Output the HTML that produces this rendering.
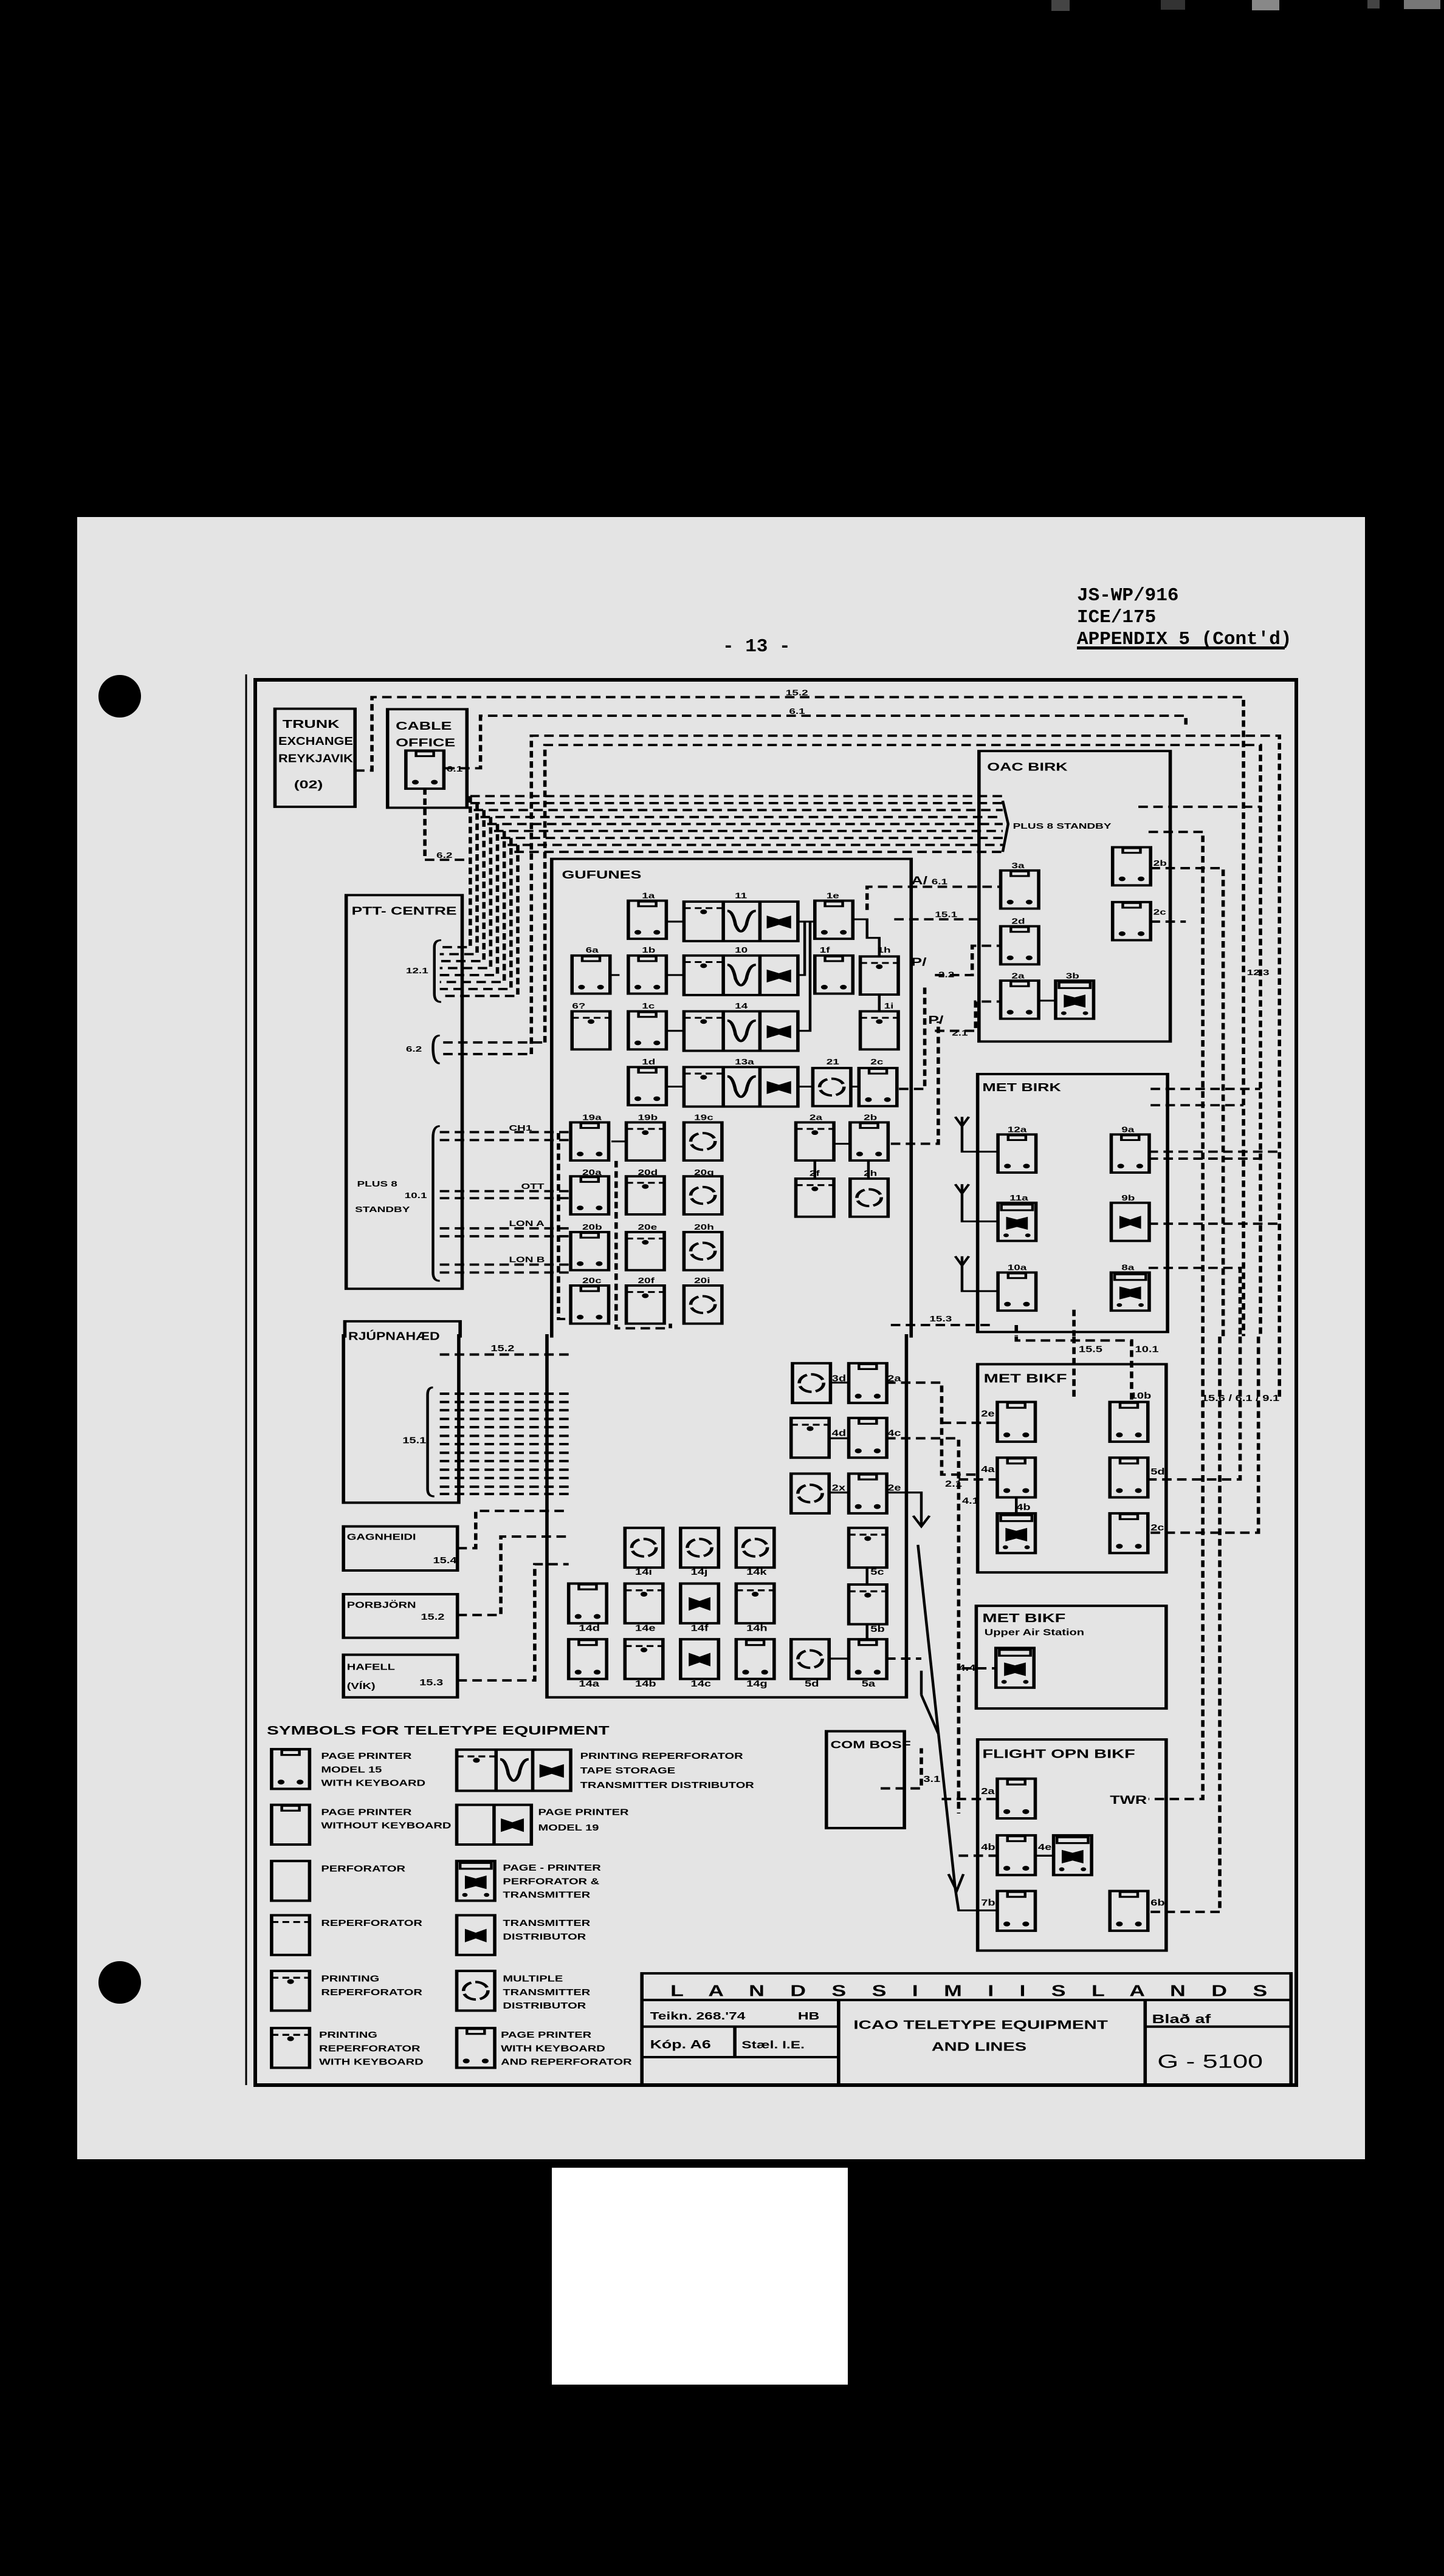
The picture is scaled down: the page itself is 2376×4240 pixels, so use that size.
<!DOCTYPE html>
<html><head><meta charset="utf-8"><style>
html,body{margin:0;padding:0;background:#000;}
svg{display:block}
</style></head><body>
<svg width="2376" height="4240" viewBox="0 0 2376 4240" xmlns="http://www.w3.org/2000/svg">
<defs>
<g id="box"><rect x="0" y="0" width="56" height="82" fill="none" stroke="#000" stroke-width="5"/></g>
<g id="pk"><rect x="0" y="0" width="56" height="82" fill="none" stroke="#000" stroke-width="5"/><rect x="15" y="2" width="26" height="10" fill="none" stroke="#000" stroke-width="4"/><circle cx="14" cy="68" r="5"/><circle cx="42" cy="68" r="5"/></g>
<g id="pp"><rect x="0" y="0" width="56" height="82" fill="none" stroke="#000" stroke-width="5"/><rect x="15" y="2" width="26" height="10" fill="none" stroke="#000" stroke-width="4"/></g>
<g id="prp"><rect x="0" y="0" width="56" height="82" fill="none" stroke="#000" stroke-width="5"/><line x1="0" y1="14" x2="56" y2="14" stroke="#000" stroke-width="4" stroke-dasharray="10 6"/><circle cx="28" cy="22" r="5"/></g>
<g id="rp"><rect x="0" y="0" width="56" height="82" fill="none" stroke="#000" stroke-width="5"/><line x1="0" y1="14" x2="56" y2="14" stroke="#000" stroke-width="4" stroke-dasharray="10 6"/></g>
<g id="circ"><rect x="0" y="0" width="56" height="82" fill="none" stroke="#000" stroke-width="5"/><circle cx="28" cy="41" r="18" fill="none" stroke="#000" stroke-width="5" stroke-dasharray="22 6"/></g>
<g id="td"><rect x="0" y="0" width="56" height="82" fill="none" stroke="#000" stroke-width="5"/><path d="M12 28 L28 36 L44 28 L44 56 L28 48 L12 56Z" fill="#000"/></g>
<g id="ppt"><rect x="0" y="0" width="56" height="82" fill="none" stroke="#000" stroke-width="5"/><rect x="5" y="4" width="46" height="12" fill="none" stroke="#000" stroke-width="4"/><path d="M12 30 L28 36 L44 30 L44 58 L28 52 L12 58Z" fill="#000"/><circle cx="12" cy="70" r="4"/><circle cx="44" cy="70" r="4"/></g>
<g id="cmp"><rect x="0" y="0" width="168" height="85" fill="none" stroke="#000" stroke-width="5"/><line x1="58" y1="0" x2="58" y2="85" stroke="#000" stroke-width="5"/><line x1="112" y1="0" x2="112" y2="85" stroke="#000" stroke-width="5"/><line x1="0" y1="14" x2="58" y2="14" stroke="#000" stroke-width="4" stroke-dasharray="10 6"/><circle cx="29" cy="22" r="5"/><path d="M64 20 Q72 20 76 50 Q84 78 92 50 Q96 20 106 20" fill="none" stroke="#000" stroke-width="5"/><path d="M122 30 L140 38 L158 30 L158 58 L140 50 L122 58Z" fill="#000"/></g>
</defs>

<rect x="1730" y="0" width="30" height="18" fill="#444"/>
<rect x="1910" y="0" width="40" height="16" fill="#333"/>
<rect x="2060" y="0" width="45" height="17" fill="#888"/>
<rect x="2250" y="0" width="20" height="14" fill="#444"/>
<rect x="2310" y="0" width="60" height="15" fill="#777"/>

<rect x="127" y="851" width="2119" height="2703" fill="#e4e4e4"/>
<circle cx="197" cy="1146" r="35" fill="#000"/>
<circle cx="197" cy="3263" r="35" fill="#000"/>
<rect x="908" y="3568" width="487" height="357" fill="#fff"/>

<g font-family="Liberation Mono, monospace" font-weight="bold" font-size="31" fill="#000">
<text x="1772" y="988">JS-WP/916</text>
<text x="1772" y="1024">ICE/175</text>
<text x="1772" y="1060">APPENDIX 5 (Cont'd)</text>
<text x="1189" y="1072">- 13 -</text>
</g>
<rect x="1772" y="1064" width="342" height="5" fill="#000"/>

<rect x="420" y="1119" width="1713" height="2313" fill="none" stroke="#000" stroke-width="6"/>
<line x1="405" y1="1110" x2="405" y2="3432" stroke="#000" stroke-width="3"/>

<!-- ZOOM1 region -->
<g transform="translate(400,1100) scale(1.116,0.765)" font-family="Liberation Sans, sans-serif" font-weight="bold" fill="#000">
<g fill="none" stroke="#000" stroke-width="5">
<rect x="47" y="87" width="118" height="211"/>
<rect x="213" y="88" width="117" height="212"/>
<path d="M455 1440 L455 410 L985 410 L985 1440"/>
<rect x="152" y="488" width="171" height="847"/>
<rect x="1085" y="178" width="282" height="625"/>
<rect x="1083" y="873" width="280" height="555"/>
<path d="M150 1440 L150 1405 L320 1405 L320 1440"/>
</g>
<g stroke="#000" stroke-width="5" fill="none" stroke-dasharray="14 8">
<path d="M165 220 L190 220 L190 62 L1475 62 L1475 1437"/>
<path d="M298 215 L350 215 L350 102 L1390 102 L1390 125"/>
<path d="M268 258 L268 412 L330 412"/>
<path d="M425 830 L425 145 L1528 145 L1528 1437"/>
<path d="M445 805 L445 165 L1500 165 L1500 1437"/>
<path d="M295 830 L425 830"/><path d="M295 805 L445 805"/>
<path d="M335 275 L1120 275"/><path d="M335 290 L1120 290"/><path d="M340 305 L1120 305"/><path d="M350 320 L1120 320"/><path d="M360 335 L1120 335"/><path d="M370 350 L1120 350"/><path d="M380 365 L1120 365"/><path d="M390 380 L1120 380"/><path d="M400 395 L1120 395"/>
<path d="M335 275 L335 600 L290 600"/><path d="M345 290 L345 615 L290 615"/><path d="M355 305 L355 630 L290 630"/><path d="M365 320 L365 645 L290 645"/><path d="M375 335 L375 660 L290 660"/><path d="M385 350 L385 675 L290 675"/><path d="M395 365 L395 690 L290 690"/><path d="M405 380 L405 705 L290 705"/>
<path d="M920 520 L920 470 L1117 470"/>
<path d="M960 540 L1085 540"/>
<path d="M1020 660 L1075 660 L1075 597 L1117 597"/>
<path d="M1020 780 L1080 780 L1080 717 L1117 717"/>
<path d="M967 905 L1005 905 L1005 680"/>
<path d="M955 1023 L1025 1023 L1025 760"/>
<path d="M1320 298 L1500 298"/><path d="M1335 352 L1415 352 L1415 1437"/><path d="M1338 430 L1445 430 L1445 1437"/><path d="M1338 545 L1390 545"/>
<path d="M1338 905 L1500 905"/><path d="M1338 940 L1475 940"/>
<path d="M1335 1040 L1528 1040"/><path d="M1335 1055 L1500 1055"/><path d="M1335 1195 L1528 1195"/><path d="M1335 1290 L1470 1290 L1470 1437"/>
<path d="M955 1413 L1105 1413"/><path d="M1140 1413 L1140 1437"/><path d="M1225 1380 L1225 1437"/>
<path d="M290 998 L480 998"/><path d="M290 1015 L480 1015"/><path d="M290 1125 L480 1125"/><path d="M290 1140 L480 1140"/><path d="M290 1205 L480 1205"/><path d="M290 1222 L480 1222"/><path d="M290 1283 L480 1283"/><path d="M290 1300 L480 1300"/>
<path d="M465 1000 L465 1400 L483 1400"/><path d="M550 1060 L550 1420 L630 1420 L630 1410"/>
</g>
<g stroke="#000" stroke-width="4" fill="none">
<path d="M292 585 Q282 585 282 600 L282 700 Q282 718 292 718"/>
<path d="M290 790 Q280 790 280 815 Q280 850 290 850"/>
<path d="M290 985 Q280 985 280 1010 L280 1300 Q280 1318 290 1318"/>
<path d="M1120 285 L1128 335 L1120 395"/>
<path d="M1060 965 L1060 1040 L1113 1040 M1050 965 L1060 985 L1070 965"/>
<path d="M1060 1110 L1060 1190 L1113 1190 M1050 1110 L1060 1130 L1070 1110"/>
<path d="M1060 1265 L1060 1340 L1113 1340 M1050 1265 L1060 1285 L1070 1265"/>
<path d="M625 545 L650 545 M625 660 L650 660 M625 780 L650 780 M625 900 L650 900 M818 900 L840 900 M897 900 L908 900 M898 540 L920 540 L920 580 L938 580 L938 618 M938 703 L938 738 M818 545 L843 545 M818 660 L828 660 L828 545 M818 780 L836 780 L836 545 M870 1023 L895 1023 M843 1060 L843 1098 M922 1060 L922 1098 M1173 715 L1198 715 M543 1018 L565 1018 M540 660 L555 660"/>
</g>
<use href="#pk" x="568" y="500"/><use href="#cmp" x="650" y="502"/><use href="#pk" x="843" y="500"/>
<use href="#pk" x="485" y="618"/><use href="#pk" x="568" y="618"/><use href="#cmp" x="650" y="618"/><use href="#pk" x="843" y="618"/><use href="#prp" x="910" y="620"/>
<use href="#prp" x="485" y="738"/><use href="#pk" x="568" y="738"/><use href="#cmp" x="650" y="738"/><use href="#prp" x="910" y="738"/>
<use href="#pk" x="568" y="858"/><use href="#cmp" x="650" y="858"/><use href="#circ" x="840" y="860"/><use href="#pk" x="908" y="860"/>
<use href="#pk" x="483" y="977"/><use href="#prp" x="565" y="977"/><use href="#circ" x="650" y="977"/><use href="#prp" x="815" y="977"/><use href="#pk" x="895" y="977"/>
<use href="#pk" x="483" y="1093"/><use href="#prp" x="565" y="1093"/><use href="#circ" x="650" y="1093"/><use href="#prp" x="815" y="1098"/><use href="#circ" x="895" y="1098"/>
<use href="#pk" x="483" y="1213"/><use href="#prp" x="565" y="1213"/><use href="#circ" x="650" y="1213"/>
<use href="#pk" x="483" y="1328"/><use href="#prp" x="565" y="1328"/><use href="#circ" x="650" y="1328"/>
<use href="#pk" x="240" y="177"/>
<use href="#pk" x="1117" y="435"/><use href="#pk" x="1117" y="555"/><use href="#pk" x="1117" y="672"/><use href="#ppt" x="1198" y="672"/><use href="#pk" x="1282" y="385"/><use href="#pk" x="1282" y="503"/>
<use href="#pk" x="1113" y="1003"/><use href="#pk" x="1280" y="1003"/><use href="#ppt" x="1113" y="1150"/><use href="#td" x="1280" y="1150"/><use href="#pk" x="1113" y="1300"/><use href="#ppt" x="1280" y="1300"/>
<g font-size="24">
<text x="58" y="128">TRUNK</text><text x="52" y="165" textLength="110" lengthAdjust="spacingAndGlyphs">EXCHANGE</text><text x="52" y="202" textLength="110" lengthAdjust="spacingAndGlyphs">REYKJAVIK</text><text x="75" y="258">(02)</text>
<text x="225" y="132">CABLE</text><text x="225" y="168">OFFICE</text>
<text x="470" y="452">GUFUNES</text>
<text x="160" y="530" textLength="155" lengthAdjust="spacingAndGlyphs">PTT- CENTRE</text>
<text x="1097" y="220">OAC  BIRK</text>
<text x="1090" y="910">MET  BIRK</text>
<text x="155" y="1445" textLength="135" lengthAdjust="spacingAndGlyphs">RJÚPNAHÆD</text>
</g>
<g font-size="17">
<text x="800" y="58">15.2</text><text x="805" y="98">6.1</text><text x="285" y="408">6.2</text><text x="300" y="222">6.1</text>
<text x="1135" y="345">PLUS 8  STANDBY</text>
<text x="240" y="656">12.1</text><text x="240" y="825">6.2</text>
<text x="168" y="1115">PLUS 8</text><text x="165" y="1170">STANDBY</text><text x="238" y="1140">10.1</text>
<text x="392" y="995">CH1</text><text x="410" y="1120">OTT</text><text x="392" y="1200">LON A</text><text x="392" y="1278">LON B</text>
<text x="985" y="465" font-size="24">A/</text><text x="1015" y="465">6.1</text><text x="1020" y="535">15.1</text>
<text x="985" y="640" font-size="24">P/</text><text x="1025" y="665">2.2</text><text x="1010" y="765" font-size="24">P/</text><text x="1045" y="790">2.1</text>
<text x="1480" y="660">12.3</text><text x="1012" y="1405">15.3</text>
<text x="588" y="495">1a</text><text x="588" y="612">1b</text><text x="588" y="732">1c</text><text x="588" y="852">1d</text><text x="725" y="495">11</text><text x="725" y="612">10</text><text x="725" y="732">14</text><text x="725" y="852">13a</text>
<text x="860" y="495">1e</text><text x="850" y="612">1f</text><text x="935" y="612">1h</text><text x="945" y="732">1i</text><text x="860" y="852">21</text><text x="925" y="852">2c</text><text x="505" y="612">6a</text><text x="485" y="732">6?</text>
<text x="500" y="972">19a</text><text x="582" y="972">19b</text><text x="665" y="972">19c</text><text x="835" y="972">2a</text><text x="915" y="972">2b</text>
<text x="500" y="1090">20a</text><text x="582" y="1090">20d</text><text x="665" y="1090">20g</text><text x="835" y="1092">2f</text><text x="915" y="1092">2h</text>
<text x="500" y="1208">20b</text><text x="582" y="1208">20e</text><text x="665" y="1208">20h</text><text x="500" y="1323">20c</text><text x="582" y="1323">20f</text><text x="665" y="1323">20i</text>
<text x="1133" y="430">3a</text><text x="1133" y="550">2d</text><text x="1133" y="667">2a</text><text x="1213" y="667">3b</text><text x="1342" y="425">2b</text><text x="1342" y="530">2c</text>
<text x="1127" y="998">12a</text><text x="1295" y="998">9a</text><text x="1130" y="1145">11a</text><text x="1295" y="1145">9b</text><text x="1127" y="1295">10a</text><text x="1295" y="1295">8a</text>
</g>
</g>

<!-- ZOOM2 region -->
<g transform="translate(400,2200) scale(1.116,0.797)" font-family="Liberation Sans, sans-serif" font-weight="bold" fill="#000">
<g fill="none" stroke="#000" stroke-width="5">
<path d="M148 -5 L148 343 L318 343 L318 -5"/>
<path d="M448 -5 L448 745 L978 745 L978 -5"/>
<rect x="1083" y="57" width="278" height="430"/>
<rect x="148" y="392" width="168" height="91"/>
<rect x="148" y="532" width="168" height="90"/>
<rect x="148" y="657" width="168" height="88"/>
<rect x="1081" y="556" width="280" height="212"/>
<rect x="1083" y="832" width="278" height="436"/>
<rect x="860" y="815" width="115" height="200"/>
<rect x="588" y="1315" width="957" height="230"/>
<path d="M588 1370 L1545 1370 M588 1425 L878 1425 M1330 1425 L1545 1425 M588 1488 L878 1488 M878 1370 L878 1545 M1330 1370 L1330 1545 M725 1425 L725 1488"/>
</g>
<g stroke="#000" stroke-width="4" fill="none">
<path d="M280 105 Q272 105 272 120 L272 315 Q272 330 282 330"/>
<path d="M948 322 L1000 322 L1000 390 M988 370 L1000 392 L1012 370"/>
<path d="M995 430 L1050 1140 M1040 1110 L1052 1145 L1062 1110"/>
<path d="M1000 690 L1000 740 M1000 740 L1025 820"/>
<path d="M1050 1140 L1055 1185 L1112 1185"/>
<path d="M865 95 L893 95 M865 210 L893 210 M865 322 L893 322 M1140 333 L1140 365 M1168 1072 L1195 1072 M865 665 L893 665 M920 475 L920 513 M920 592 L920 625"/>
</g>
<g stroke="#000" stroke-width="5" fill="none" stroke-dasharray="14 8">
<path d="M290 37 L480 37"/>
<path d="M290 118 L480 118"/><path d="M290 135 L480 135"/><path d="M290 152 L480 152"/><path d="M290 170 L480 170"/><path d="M290 187 L480 187"/><path d="M290 205 L480 205"/><path d="M290 222 L480 222"/><path d="M290 240 L480 240"/><path d="M290 257 L480 257"/><path d="M290 275 L480 275"/><path d="M290 292 L480 292"/><path d="M290 310 L480 310"/><path d="M290 325 L480 325"/>
<path d="M316 437 L343 437 L343 360 L480 360"/>
<path d="M316 575 L380 575 L380 413 L480 413"/>
<path d="M316 710 L430 710 L430 470 L480 470"/>
<path d="M948 95 L1030 95 L1030 285 L1085 285"/>
<path d="M948 210 L1055 210 L1055 985"/>
<path d="M1030 178 L1112 178"/><path d="M1055 295 L1112 295"/>
<path d="M948 665 L1000 665"/><path d="M1060 685 L1110 685"/>
<path d="M940 933 L1000 933 L1000 850"/>
<path d="M1030 955 L1112 955"/><path d="M1055 1072 L1112 1072"/>
<path d="M1140 0 L1140 8 L1310 8 L1310 135"/><path d="M1225 0 L1225 130"/>
<path d="M1415 0 L1415 955 L1335 955"/><path d="M1440 0 L1440 1188 L1335 1188"/>
<path d="M1470 0 L1470 295 L1335 295"/><path d="M1497 0 L1497 405 L1335 405"/><path d="M1528 0 L1528 125"/>
</g>
<use href="#circ" x="810" y="55"/><use href="#pk" x="893" y="55"/>
<use href="#prp" x="808" y="168"/><use href="#pk" x="893" y="168"/>
<use href="#circ" x="808" y="283"/><use href="#pk" x="893" y="283"/>
<use href="#circ" x="563" y="395"/><use href="#circ" x="645" y="395"/><use href="#circ" x="727" y="395"/><use href="#prp" x="893" y="395"/>
<use href="#pk" x="480" y="510"/><use href="#prp" x="563" y="510"/><use href="#td" x="645" y="510"/><use href="#prp" x="727" y="510"/><use href="#prp" x="893" y="512"/>
<use href="#pk" x="480" y="625"/><use href="#prp" x="563" y="625"/><use href="#td" x="645" y="625"/><use href="#pk" x="727" y="625"/><use href="#circ" x="808" y="625"/><use href="#pk" x="893" y="625"/>
<use href="#pk" x="1112" y="135"/><use href="#pk" x="1278" y="135"/><use href="#pk" x="1112" y="250"/><use href="#pk" x="1278" y="250"/><use href="#ppt" x="1112" y="365"/><use href="#pk" x="1278" y="365"/>
<use href="#ppt" x="1110" y="643"/>
<use href="#pk" x="1112" y="913"/><use href="#pk" x="1112" y="1030"/><use href="#ppt" x="1195" y="1030"/><use href="#pk" x="1112" y="1145"/><use href="#pk" x="1278" y="1145"/>
<use href="#pk" x="42" y="852"/><use href="#pp" x="42" y="967"/><use href="#box" x="42" y="1083"/><use href="#rp" x="42" y="1195"/><use href="#prp" x="42" y="1310"/><use href="#prp" x="42" y="1428"/>
<use href="#cmp" x="315" y="853"/>
<rect x="315" y="967" width="110" height="82" fill="none" stroke="#000" stroke-width="5"/><line x1="370" y1="967" x2="370" y2="1049" stroke="#000" stroke-width="5"/><path d="M380 995 L397 1003 L414 995 L414 1023 L397 1015 L380 1023Z"/>
<use href="#ppt" x="315" y="1083"/><use href="#td" x="315" y="1195"/><use href="#circ" x="315" y="1310"/><use href="#pk" x="315" y="1428"/>
<g font-size="26">
<text x="1092" y="95">MET  BIKF</text>
<text x="1090" y="590">MET  BIKF</text>
<text x="1090" y="870">FLIGHT  OPN  BIKF</text>
<text x="866" y="850" font-size="22">COM BOSF</text>
<text x="35" y="822" textLength="505" lengthAdjust="spacingAndGlyphs">SYMBOLS  FOR  TELETYPE  EQUIPMENT</text>
<text x="630" y="1362" font-size="32" textLength="880" lengthAdjust="spacing">L A N D S S I M I   I S L A N D S</text>
<text x="900" y="1430" font-size="26" textLength="375" lengthAdjust="spacingAndGlyphs">ICAO  TELETYPE  EQUIPMENT</text>
<text x="1015" y="1475" font-size="26">AND  LINES</text>
<text x="1348" y="1510" font-size="40" font-weight="normal">G - 5100</text>
</g>
<g font-size="18">
<text x="153" y="420">GAGNHEIDI</text><text x="280" y="468">15.4</text>
<text x="153" y="560">PORBJÖRN</text><text x="262" y="585">15.2</text>
<text x="153" y="688">HAFELL</text><text x="153" y="728">(VÍK)</text><text x="260" y="720">15.3</text>
<text x="365" y="30">15.2</text><text x="235" y="220">15.1</text>
<text x="1232" y="32">15.5</text><text x="1315" y="32">10.1</text>
<text x="1093" y="617">Upper Air Station</text>
<text x="1278" y="965" font-size="24">TWR</text>
<text x="1413" y="133">15.6 / 6.1 / 9.1</text>
<text x="1035" y="310">2.1</text><text x="1060" y="345">4.1</text><text x="1055" y="690">4.4</text><text x="1003" y="920">3.1</text>
<text x="868" y="92">3d</text><text x="950" y="92">2a</text><text x="868" y="205">4d</text><text x="950" y="205">4c</text><text x="868" y="318">2x</text><text x="950" y="318">2e</text>
<text x="578" y="492">14i</text><text x="660" y="492">14j</text><text x="742" y="492">14k</text><text x="925" y="492">5c</text>
<text x="495" y="608">14d</text><text x="578" y="608">14e</text><text x="660" y="608">14f</text><text x="742" y="608">14h</text><text x="925" y="610">5b</text>
<text x="495" y="723">14a</text><text x="578" y="723">14b</text><text x="660" y="723">14c</text><text x="742" y="723">14g</text><text x="828" y="723">5d</text><text x="912" y="723">5a</text>
<text x="1088" y="165">2e</text><text x="1308" y="128">10b</text><text x="1088" y="280">4a</text><text x="1338" y="285">5d</text><text x="1140" y="358">4b</text><text x="1338" y="400">2c</text>
<text x="1088" y="945">2a</text><text x="1088" y="1060">4b</text><text x="1172" y="1060">4e</text><text x="1088" y="1175">7b</text><text x="1338" y="1175">6b</text>
<text x="115" y="872">PAGE PRINTER</text><text x="115" y="900">MODEL 15</text><text x="115" y="928">WITH KEYBOARD</text>
<text x="115" y="988">PAGE PRINTER</text><text x="115" y="1016">WITHOUT KEYBOARD</text>
<text x="115" y="1105">PERFORATOR</text>
<text x="115" y="1217">REPERFORATOR</text>
<text x="115" y="1332">PRINTING</text><text x="115" y="1360">REPERFORATOR</text>
<text x="112" y="1448">PRINTING</text><text x="112" y="1476">REPERFORATOR</text><text x="112" y="1504">WITH KEYBOARD</text>
<text x="497" y="872">PRINTING REPERFORATOR</text><text x="497" y="902">TAPE STORAGE</text><text x="497" y="932">TRANSMITTER DISTRIBUTOR</text>
<text x="435" y="988">PAGE PRINTER</text><text x="435" y="1020">MODEL 19</text>
<text x="383" y="1103">PAGE - PRINTER</text><text x="383" y="1131">PERFORATOR &amp;</text><text x="383" y="1159">TRANSMITTER</text>
<text x="383" y="1217">TRANSMITTER</text><text x="383" y="1245">DISTRIBUTOR</text>
<text x="383" y="1332">MULTIPLE</text><text x="383" y="1360">TRANSMITTER</text><text x="383" y="1388">DISTRIBUTOR</text>
<text x="380" y="1448">PAGE PRINTER</text><text x="380" y="1476">WITH KEYBOARD</text><text x="380" y="1504">AND REPERFORATOR</text>
<text x="600" y="1410" font-size="22">Teikn. 268.'74</text><text x="818" y="1410" font-size="22">HB</text>
<text x="600" y="1470" font-size="24">Kóp. A6</text><text x="735" y="1470" font-size="22">Stæl. I.E.</text>
<text x="1340" y="1418" font-size="26">Blað    af</text>
</g>
</g>
</svg>
</body></html>
